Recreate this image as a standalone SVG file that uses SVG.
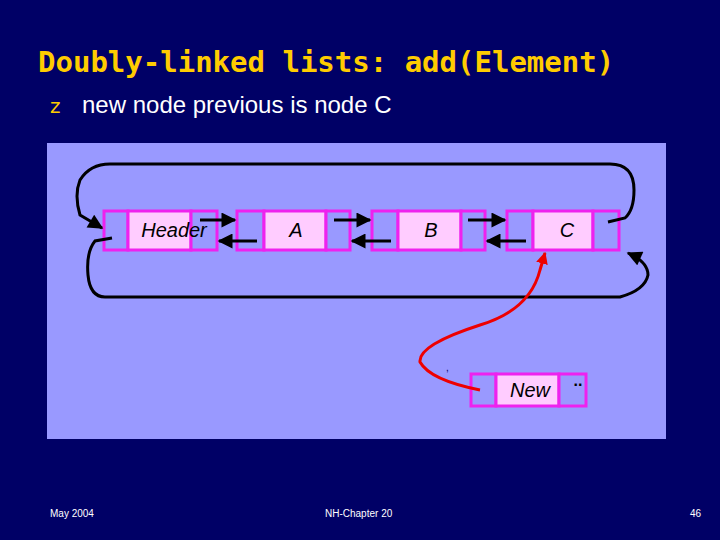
<svg xmlns="http://www.w3.org/2000/svg" width="720" height="540" viewBox="0 0 720 540">
<defs>
<style>
.cell{fill:#9999ff;stroke:#ee22ee;stroke-width:3}
.data{fill:#ffccff;stroke:#ee22ee;stroke-width:3}
.lbl{font-family:"Liberation Sans",Arial,sans-serif;font-size:20px;font-style:italic;fill:#000;text-anchor:middle}
.ln{fill:none;stroke:#000;stroke-width:3}
.ft{font-family:"Liberation Sans",Arial,sans-serif;font-size:10px;fill:#ffffff}
</style>
<marker id="ah" viewBox="0 0 10 10" refX="9" refY="5" markerWidth="5.5" markerHeight="5" orient="auto" markerUnits="strokeWidth"><path d="M0,0 L10,5 L0,10 Z" fill="#000"/></marker>
<marker id="rh" viewBox="0 0 10 10" refX="9" refY="5" markerWidth="4" markerHeight="4" orient="auto" markerUnits="strokeWidth"><path d="M0,0 L10,5 L0,10 Z" fill="#ee0000"/></marker>
</defs>
<rect width="720" height="540" fill="#000066"/>
<text x="38" y="72" font-family="'DejaVu Sans Mono',monospace" font-weight="bold" font-size="29" fill="#ffcc00">Doubly-linked lists: add(Element)</text>
<text x="50" y="113" font-family="'DejaVu Sans',sans-serif" font-size="20" fill="#ffcc00">z</text>
<text x="82" y="113" font-family="'Liberation Sans',Arial,sans-serif" font-size="24" fill="#ffffff">new node previous is node C</text>
<rect x="47" y="143" width="619" height="296" fill="#9999ff"/>
<g id="header"><rect class="cell" x="104" y="211" width="24" height="39"/><rect class="data" x="128" y="211" width="63" height="39"/><rect class="cell" x="191" y="211" width="26" height="39"/><text class="lbl" x="174" y="237">Header</text></g>
<g id="nodeA"><rect class="cell" x="237" y="211" width="27" height="39"/><rect class="data" x="264" y="211" width="62" height="39"/><rect class="cell" x="326" y="211" width="24" height="39"/><text class="lbl" x="296" y="237">A</text></g>
<g id="nodeB"><rect class="cell" x="372" y="211" width="26" height="39"/><rect class="data" x="398" y="211" width="63" height="39"/><rect class="cell" x="461" y="211" width="24" height="39"/><text class="lbl" x="431" y="237">B</text></g>
<g id="nodeC"><rect class="cell" x="507" y="211" width="26" height="39"/><rect class="data" x="533" y="211" width="60" height="39"/><rect class="cell" x="593" y="211" width="26" height="39"/><text class="lbl" x="567" y="237">C</text></g>
<g id="nodeNew"><rect class="cell" x="471" y="374" width="25" height="32"/><rect class="data" x="496" y="374" width="63" height="32"/><rect class="cell" x="559" y="374" width="27" height="32"/><text class="lbl" x="530" y="397">New</text><text x="578" y="386" font-family="'Liberation Sans',sans-serif" font-size="16" font-weight="bold" text-anchor="middle">..</text></g>
<g id="connectors">
<path class="ln" d="M200,220 L235,220" marker-end="url(#ah)"/>
<path class="ln" d="M334,220 L370,220" marker-end="url(#ah)"/>
<path class="ln" d="M468,220 L505,220" marker-end="url(#ah)"/>
<path class="ln" d="M257,241 L219,241" marker-end="url(#ah)"/>
<path class="ln" d="M391,241 L352,241" marker-end="url(#ah)"/>
<path class="ln" d="M526,241 L487,241" marker-end="url(#ah)"/>
<path class="ln" d="M608,222 L625,218 Q634,210 634,190 Q634,164 610,164 L110,164 Q90,164 80,180 Q74,195 80,215 L102,228" marker-end="url(#ah)"/>
<path class="ln" d="M112,238 L95,241 Q86,252 88,275 Q90,297 105,297 L620,297 Q645,290 648,275 Q648,262 628,253" marker-end="url(#ah)"/>
<path d="M480,390 Q430,380 420,362 Q418,345 480,325 Q530,310 540,270 L545,253" fill="none" stroke="#ee0000" stroke-width="3" marker-end="url(#rh)"/>
</g>
<text x="446" y="371" font-family="'Liberation Sans',sans-serif" font-size="10" fill="#000066">,</text>
<text class="ft" x="50" y="517">May 2004</text>
<text class="ft" x="325" y="517">NH-Chapter 20</text>
<text class="ft" x="690" y="517">46</text>
</svg>
